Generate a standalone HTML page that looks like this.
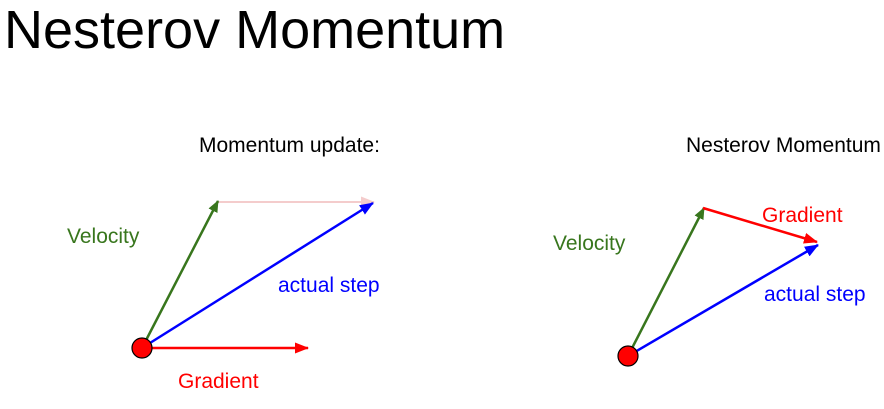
<!DOCTYPE html>
<html><head><meta charset="utf-8"><style>
body{margin:0;background:#fff;width:884px;height:404px;overflow:hidden}
svg text{font-family:"Liberation Sans",Arial,sans-serif}
</style></head><body>
<svg width="884" height="404" viewBox="0 0 884 404">
<defs>
<marker id="ag" markerWidth="12" markerHeight="10" refX="11" refY="5" orient="auto" markerUnits="userSpaceOnUse"><path d="M0,0 L12,5 L0,10 z" fill="#38761d"/></marker>
<marker id="ab" markerWidth="14" markerHeight="11" refX="13" refY="5.5" orient="auto" markerUnits="userSpaceOnUse"><path d="M0,0 L14,5.5 L0,11 z" fill="#0000ff"/></marker>
<marker id="ar" markerWidth="14" markerHeight="11" refX="13" refY="5.5" orient="auto" markerUnits="userSpaceOnUse"><path d="M0,0 L14,5.5 L0,11 z" fill="#ff0000"/></marker>
<marker id="ap" markerWidth="14" markerHeight="11" refX="13" refY="5.5" orient="auto" markerUnits="userSpaceOnUse"><path d="M0,0 L14,5.5 L0,11 z" fill="#f4cccc"/></marker>
</defs>
<text x="4" y="48" font-size="54" fill="#000">Nesterov Momentum</text>
<g>
<text x="199" y="152" font-size="21" fill="#000">Momentum update:</text>
<line x1="218" y1="202" x2="374" y2="202" stroke="#f4cccc" stroke-width="2" marker-end="url(#ap)"/>
<line x1="142" y1="348" x2="218" y2="201" stroke="#38761d" stroke-width="2.5" marker-end="url(#ag)"/>
<line x1="142" y1="348" x2="373" y2="203" stroke="#0000ff" stroke-width="2.5" marker-end="url(#ab)"/>
<line x1="150" y1="348" x2="308" y2="348" stroke="#ff0000" stroke-width="2.5" marker-end="url(#ar)"/>
<circle cx="142" cy="348" r="10" fill="#ff0000" stroke="#000" stroke-width="1.2"/>
<text x="67" y="243" font-size="21" fill="#38761d">Velocity</text>
<text x="278" y="292" font-size="21" fill="#0000ff">actual step</text>
<text x="178" y="388" font-size="21" fill="#ff0000">Gradient</text>
</g>
<g>
<text x="686" y="152" font-size="21" fill="#000">Nesterov Momentum</text>
<line x1="628" y1="356" x2="704" y2="208" stroke="#38761d" stroke-width="2.5" marker-end="url(#ag)"/>
<line x1="703" y1="208" x2="817" y2="242" stroke="#ff0000" stroke-width="2.5" marker-end="url(#ar)"/>
<line x1="628" y1="356" x2="818" y2="245" stroke="#0000ff" stroke-width="2.5" marker-end="url(#ab)"/>
<circle cx="628" cy="356" r="10" fill="#ff0000" stroke="#000" stroke-width="1.2"/>
<text x="553" y="250" font-size="21" fill="#38761d">Velocity</text>
<text x="762" y="222" font-size="21" fill="#ff0000">Gradient</text>
<text x="764" y="301" font-size="21" fill="#0000ff">actual step</text>
</g>
</svg>
</body></html>
